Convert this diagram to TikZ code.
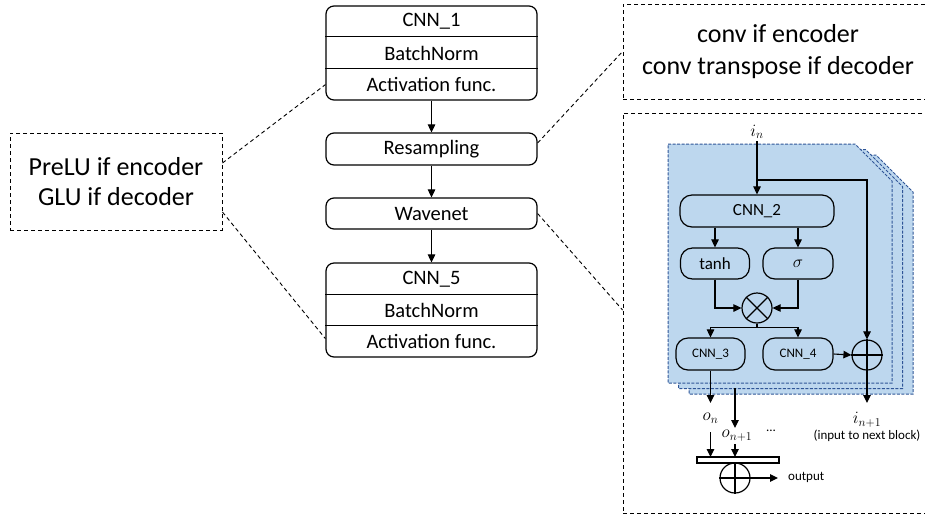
\documentclass[tikz,border=0pt]{standalone}
\usepackage{fontspec}
\setmainfont{Carlito}
\usetikzlibrary{arrows.meta,calc}
\definecolor{panelblue}{HTML}{BDD7EE}
\definecolor{panelline}{HTML}{2F5597}
\begin{document}
\begin{tikzpicture}[x=1pt,y=-1pt,
  blockbox/.style={draw, line width=1.2pt, rounded corners=8pt, minimum width=211pt, inner sep=0pt},
  rowtext/.style={font=\fontsize{20.5}{24}\selectfont, inner sep=0pt},
  notebox/.style={draw, dash pattern=on 4pt off 3pt, line width=0.9pt, align=center, inner sep=0pt},
  link/.style={dash pattern=on 4pt off 3pt, line width=0.9pt},
  flow/.style={-{Triangle[length=8pt,width=7.5pt]}, line width=1.1pt},
  pill/.style={draw, line width=1.2pt, rounded corners=12pt, inner sep=0pt, minimum height=32pt},
  panel/.style={fill=panelblue, draw=panelline, line width=1pt, dash pattern=on 3pt off 1.5pt},
  op/.style={circle, draw, line width=1.2pt, minimum size=30pt, inner sep=0pt},
  mathlbl/.style={font=\fontsize{17}{20}\selectfont, inner sep=0pt},
  smalltext/.style={font=\fontsize{13}{16}\selectfont, inner sep=0pt}]
\clip (0,0) rectangle (925,515);

% ---------- main column ----------
\node[blockbox, minimum height=94pt] (blk1) at (431.5,53) {};
\node[rowtext] (cnn1) at (431.5,21.5) {CNN\_1};
\node[rowtext] (bn1) at (431.5,53) {BatchNorm};
\node[rowtext] (act1) at (431.5,84.5) {Activation func.};
\draw[line width=1.2pt] ([yshift=-31pt]blk1.north west) -- ([yshift=-31pt]blk1.north east);
\draw[line width=1.2pt] ([yshift=-63pt]blk1.north west) -- ([yshift=-63pt]blk1.north east);

\node[blockbox, minimum height=32pt, rowtext] (resamp) at (431.5,149) {Resampling};
\node[blockbox, minimum height=31pt, rowtext] (wave) at (431.5,213.5) {Wavenet};

\node[blockbox, minimum height=94pt] (blk5) at (431.5,310) {};
\node[rowtext] (cnn5) at (431.5,279) {CNN\_5};
\node[rowtext] (bn5) at (431.5,310.5) {BatchNorm};
\node[rowtext] (act5) at (431.5,341.5) {Activation func.};
\draw[line width=1.2pt] ([yshift=-32pt]blk5.north west) -- ([yshift=-32pt]blk5.north east);
\draw[line width=1.2pt] ([yshift=-63pt]blk5.north west) -- ([yshift=-63pt]blk5.north east);

\draw[flow] (blk1.south) -- (resamp.north);
\draw[flow] (resamp.south) -- (wave.north);
\draw[flow] (wave.south) -- (blk5.north);

% ---------- notes ----------
\node[notebox, minimum width=212pt, minimum height=97pt, font=\fontsize{26}{30}\selectfont] (prelu) at (116,181.5)
  {PreLU if encoder\\GLU if decoder};
\node[notebox, minimum width=310pt, minimum height=95pt, font=\fontsize{26}{32}\selectfont] (conv) at (778,51.5)
  {conv if encoder\\conv transpose if decoder};
\node[notebox, minimum width=310pt, minimum height=400pt] (wbox) at (778,313) {};

\draw[link] ([yshift=18.5pt]prelu.east) -- ([yshift=16pt]blk1.south west);
\draw[link] ([yshift=-30.5pt]prelu.east) -- ([yshift=19pt]blk5.south west);
\draw[link] ([yshift=6pt]resamp.east) -- (conv.west);
\draw[link] (wave.east) -- ([yshift=3pt]wbox.west);

% ---------- stacked wavenet blocks ----------
\foreach \d in {2,1,0}{
  \draw[panel, shift={(10.5*\d,5.5*\d)}]
    (668,144) -- (855,144) -- (892,181) -- (892,383) -- (668,383) -- cycle;
}

\node[mathlbl] (in) at (757,132) {$i_n$};
\node[pill, minimum width=154pt, font=\fontsize{17}{20}\selectfont] (cnn2) at (757,211) {CNN\_2};
\node[pill, minimum width=69pt, minimum height=31pt, font=\fontsize{17}{20}\selectfont] (tanh) at (715,263.5) {tanh};
\node[pill, minimum width=70pt, minimum height=31pt, font=\fontsize{17}{20}\selectfont] (sig) at (798,263.5) {$\sigma$};
\node[op] (mul) at (757,308) {};
\draw[line width=1.2pt] (mul.north west) -- (mul.south east) (mul.north east) -- (mul.south west);
\node[pill, minimum width=69pt, font=\fontsize{13}{16}\selectfont] (cnn3) at (710.5,354) {CNN\_3};
\node[pill, minimum width=70pt, font=\fontsize{13}{16}\selectfont] (cnn4) at (798,354) {CNN\_4};
\node[op] (res) at (867,355) {};
\draw[line width=1.2pt] (res.north) -- (res.south) (res.west) -- (res.east);

\coordinate (br) at (757,180);
\draw[flow] ([yshift=-2pt]in.south) -- (cnn2.north);
\draw[flow] (br) -| (res.north);
\draw[flow] (cnn2.south -| tanh.north) -- (tanh.north);
\draw[flow] (cnn2.south -| sig.north) -- (sig.north);
\draw[flow] (tanh.south) |- (mul.west);
\draw[flow] (sig.south) |- (mul.east);
\coordinate (sp) at ($(mul.south)+(0,4)$);
\draw[line width=1.1pt] (mul.south) -- (sp);
\draw[flow] (sp) -| (cnn3.north);
\draw[flow] (sp) -| (cnn4.north);
\draw[flow] (cnn4.east) -- (res.west);

% ---------- outputs ----------
\coordinate (e1) at (867,403);
\coordinate (e3) at (710.5,403);
\coordinate (s2) at (735,388);
\coordinate (e2) at (735,428);
\draw[flow] (res.south) -- (e1);
\draw[flow] (cnn3.south) -- (e3);
\draw[flow] (s2) -- (e2);

\node[mathlbl] (inx) at (867,420) {$i_{n+1}$};
\node[smalltext] (nxt) at (867,436) {(input to next block)};
\node[mathlbl] (on) at (710.5,418) {$o_n$};
\node[mathlbl] (on1) at (737,436) {$o_{n+1}$};
\node[smalltext] (dots) at (771,431) {...};

\node[draw, line width=1.1pt, minimum width=82pt, minimum height=6pt, inner sep=0pt] (bar) at (738,460) {};
\draw[flow] (710.5,432) -- (710.5,457);
\draw[flow] (735,444) -- (735,457);
\node[op] (sum) at (735,478) {};
\draw[line width=1.2pt] (sum.north) -- (sum.south) (sum.west) -- (sum.east);
\coordinate (oe) at (778,478);
\draw[flow] (sum.east) -- (oe);
\node[smalltext, anchor=west] (out) at (788,477) {output};
\end{tikzpicture}
\end{document}
